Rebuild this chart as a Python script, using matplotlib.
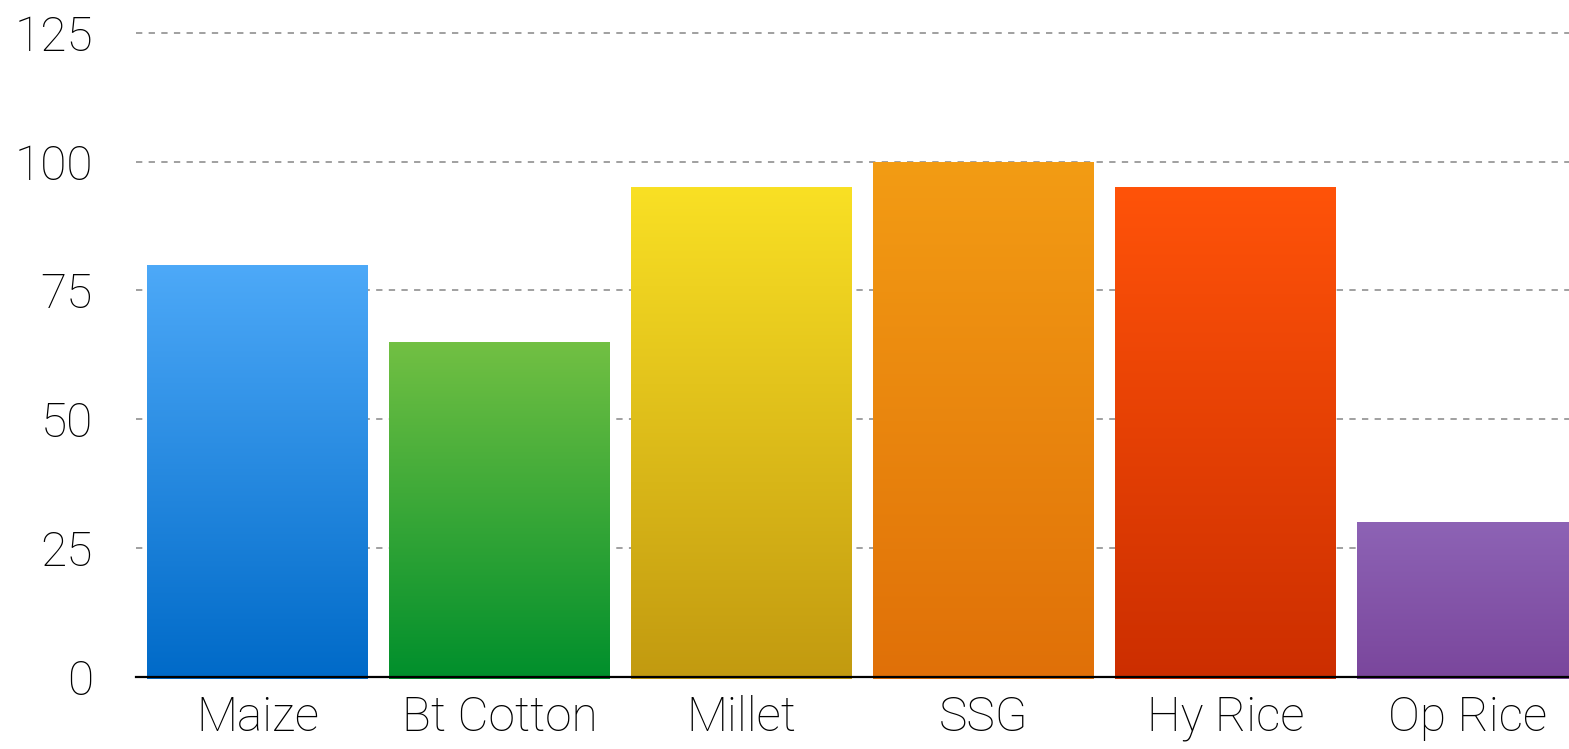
import matplotlib
matplotlib.use("Agg")
import matplotlib.pyplot as plt
from matplotlib.colors import LinearSegmentedColormap
import numpy as np

crops = ["Maize", "Bt Cotton", "Millet", "SSG", "Hy Rice", "Op Rice"]
values = [80, 65, 95, 100, 95, 30]
top_colors = ["#4DA9F8", "#72C043", "#F9E024", "#F39C14", "#FF5309", "#8D63B5"]
bottom_colors = ["#006AC8", "#008F2C", "#C29A10", "#E07008", "#CC2E00", "#7A469C"]
y_ticks = [0, 25, 50, 75, 100, 125]

plt.rcParams["font.family"] = ["Roboto", "DejaVu Sans"]
plt.rcParams["font.weight"] = "light"

fig = plt.figure(figsize=(15.69, 7.49), dpi=100)
ax = fig.add_axes([136 / 1569, 72 / 749, 1 - 136 / 1569, 670 / 749])

x = np.arange(len(crops))
bars = ax.bar(x, values, width=0.91, color="none", zorder=2)

# vertical gradient inside each bar
grad = np.linspace(0, 1, 256).reshape(-1, 1)
for patch, c_top, c_bot in zip(bars.patches, top_colors, bottom_colors):
    cmap = LinearSegmentedColormap.from_list("g", [c_bot, c_top])
    x0, w, h = patch.get_x(), patch.get_width(), patch.get_height()
    im = ax.imshow(grad, cmap=cmap, origin="lower", aspect="auto",
                   extent=[x0, x0 + w, -0.3, h], zorder=2)
    im.set_clip_on(False)

ax.set_xlim(-0.502, 5.42)
ax.set_ylim(0, 130)

ax.set_yticks(y_ticks)
ax.set_xticks(x)
ax.set_xticklabels(crops)
ax.tick_params(axis="both", length=0, labelsize=34.5)
ax.tick_params(axis="y", pad=31)
ax.tick_params(axis="x", pad=13)

for v in y_ticks[1:]:
    ax.axhline(v, color="#999999", linestyle=(0, (3.5, 3.5)), linewidth=1.3, zorder=1)
ax.axhline(0, color="black", linewidth=1.6, zorder=3, clip_on=False)

for s in ax.spines.values():
    s.set_visible(False)

fig.savefig("out.png", dpi=100)
